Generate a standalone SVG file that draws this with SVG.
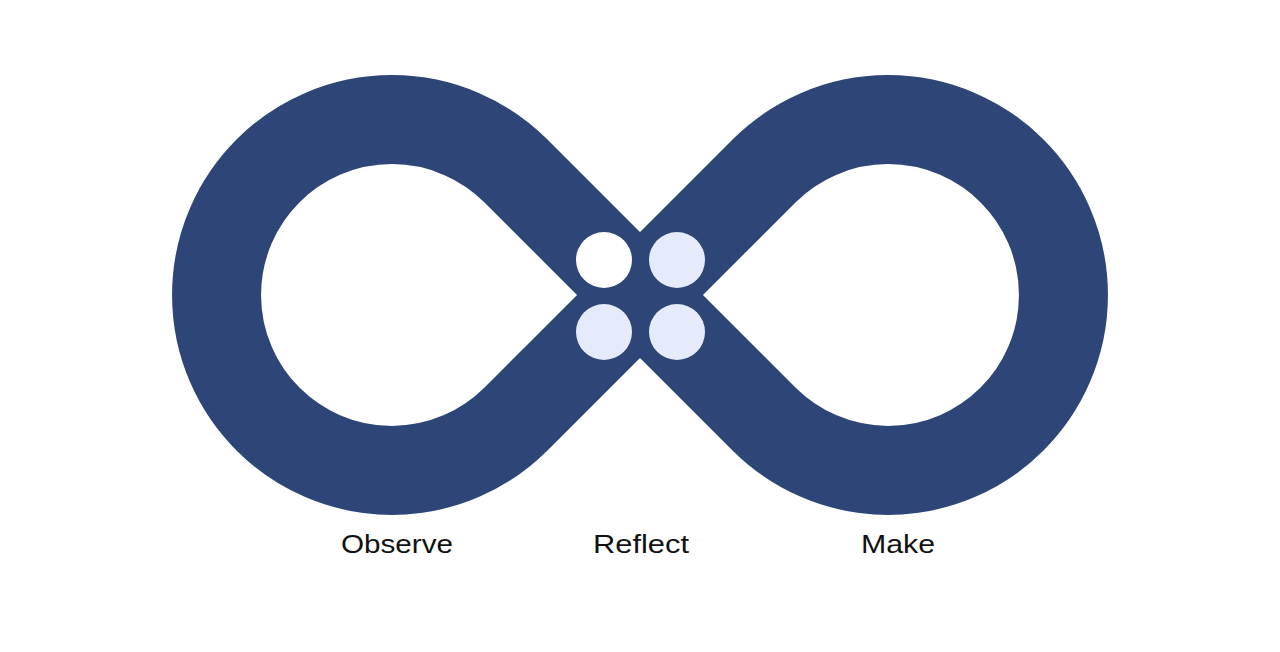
<svg xmlns="http://www.w3.org/2000/svg" width="1280" height="652" viewBox="0 0 1280 652">
  <style>
    .band { fill: none; stroke: #2E4677; stroke-width: 89; stroke-linejoin: miter; }
    .dot { stroke: none; }
    .label { font-family: "Liberation Sans", Arial, sans-serif; font-size: 26px; fill: #111111; text-anchor: middle; }
  </style>
  <rect x="0" y="0" width="1280" height="652" fill="#FFFFFF"/>
  <g id="connectors">
    <path id="infinity" class="band" d="M 640 295 L 516 171 A 175.4 175.4 0 1 0 516 419 L 764 171 A 175.4 175.4 0 1 1 764 419 Z"/>
  </g>
  <g id="dots">
    <circle id="dot-tl" class="dot" cx="604" cy="260" r="28" fill="#FFFFFF"/>
    <circle id="dot-tr" class="dot" cx="677" cy="260" r="28" fill="#E5EBFA"/>
    <circle id="dot-bl" class="dot" cx="604" cy="332" r="28" fill="#E5EBFA"/>
    <circle id="dot-br" class="dot" cx="677" cy="332" r="28" fill="#E5EBFA"/>
  </g>
  <g id="node-observe">
    <text class="label" x="397" y="553" textLength="112" lengthAdjust="spacingAndGlyphs">Observe</text>
  </g>
  <g id="node-reflect">
    <text class="label" x="641" y="553" textLength="96" lengthAdjust="spacingAndGlyphs">Reflect</text>
  </g>
  <g id="node-make">
    <text class="label" x="898" y="553" textLength="74" lengthAdjust="spacingAndGlyphs">Make</text>
  </g>
</svg>
